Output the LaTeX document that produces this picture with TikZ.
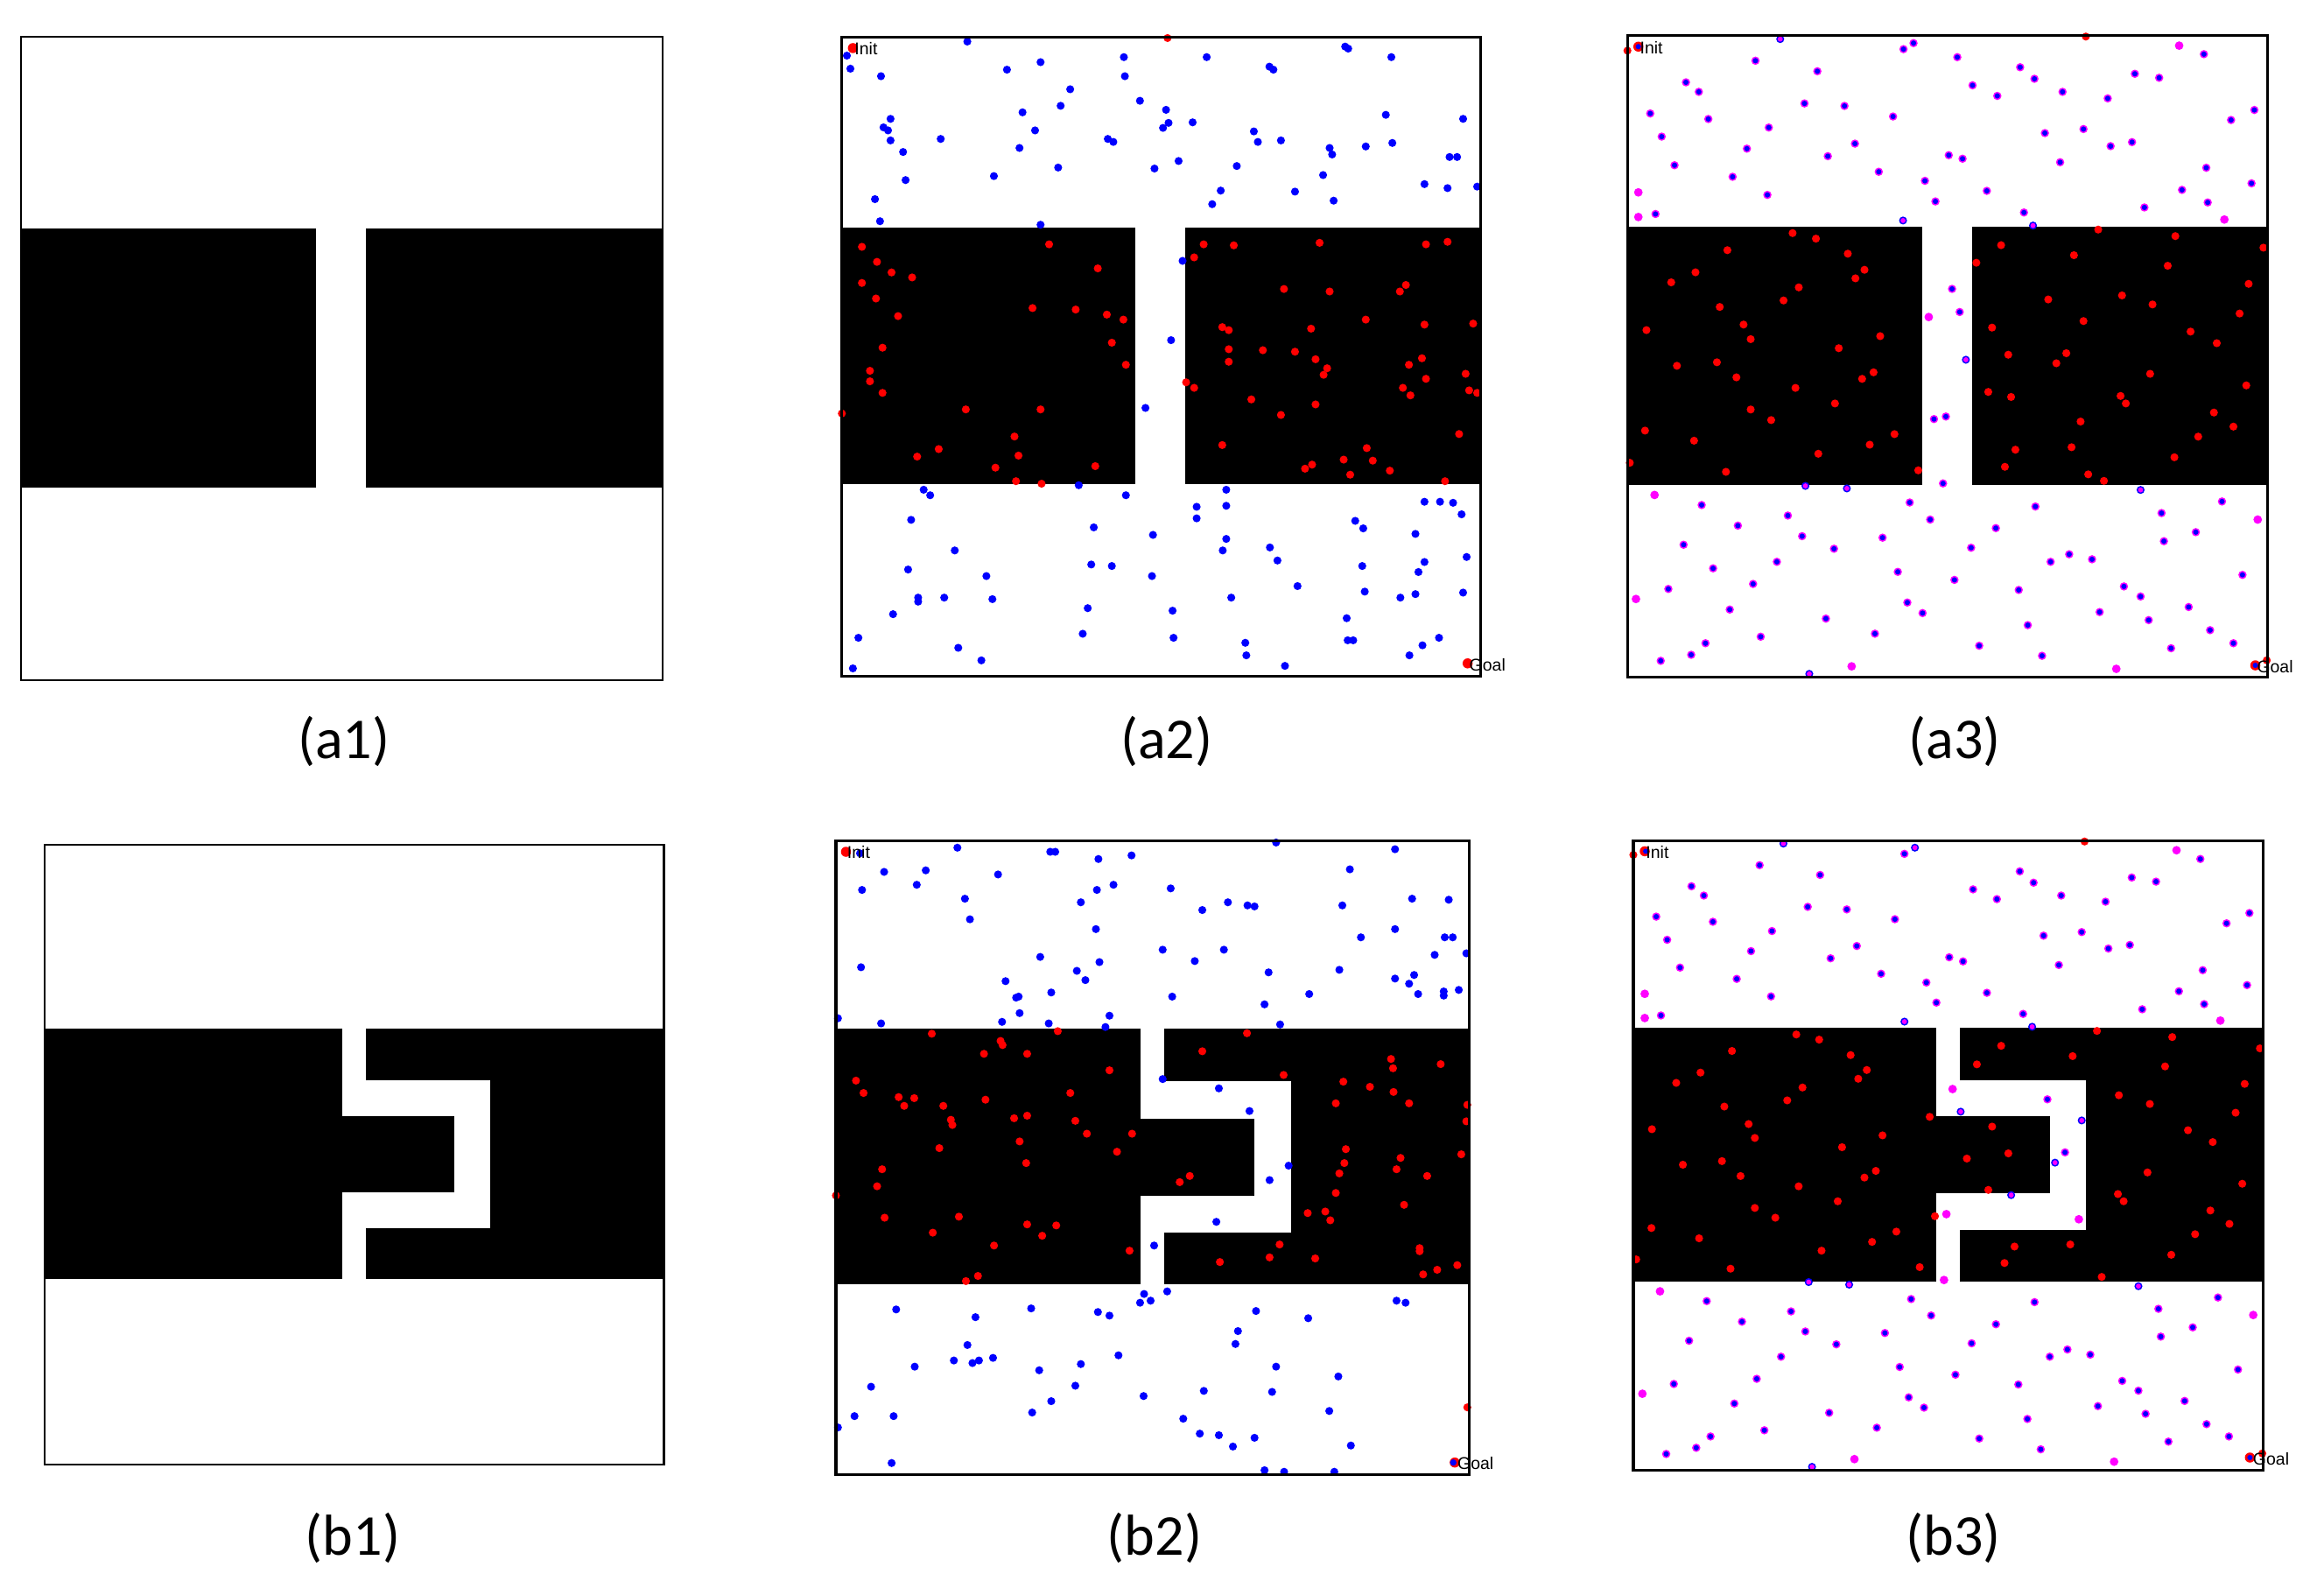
\documentclass[tikz,border=0pt]{standalone}
\usepackage{fontspec}
\setmainfont{Carlito}
\newfontfamily\tagfont{Liberation Sans}
\definecolor{pblue}{RGB}{0,0,255}
\definecolor{pred}{RGB}{255,0,0}
\definecolor{pmag}{RGB}{255,0,255}
\tikzset{
  frm/.style={draw=black, line width=1.8pt},
  thinfrm/.style={draw=black, line width=1.3pt},
  lab/.style={font=\fontsize{39}{44}\selectfont, anchor=base, inner sep=0pt},
  tagtext/.style={font=\tagfont\fontsize{11.5}{13}\selectfont, anchor=base west, inner sep=0pt},
}
% geometry of the obstacles in normalised frame coordinates
\newcommand\obstA{%
  \fill[black] (0,0.298) rectangle (0.460,0.700);
  \fill[black] (0.538,0.298) rectangle (1,0.700);}
\newcommand\obstB{%
  \fill[black] (0,0.297) rectangle (1,0.700);
  \fill[white] (0.481,0.297) rectangle (0.519,0.700);
  \fill[white] (0.481,0.380) rectangle (0.719,0.618);
  \fill[black] (0.470,0.438) rectangle (0.661,0.560);}
\newcommand\pp[2]{({(#1-\pOX)/\pW},{(#2-\pOY)/\pH})}
\begin{document}
\begin{tikzpicture}[x=1pt,y=-1pt]
\useasboundingbox (0,0) rectangle (1568,1076);
\fill[white] (0,0) rectangle (1568,1076);

%%%%%%%%%%%%%%%% (a1)
\begin{scope}[shift={(14,25)}, x=433pt, y=-434pt]
  \obstA
  \draw[thinfrm] (0,0) rectangle (1,1);
\end{scope}
\node[lab] (la1) at (232,512) {(a1)};

%%%%%%%%%%%%%%%% (b1)
\begin{scope}[shift={(30,570)}, x=418pt, y=-418pt]
  \obstB
  \draw[thinfrm] (0,0) rectangle (1,1);
\end{scope}
\node[lab] (lb1) at (238,1049) {(b1)};

%%%%%%%%%%%%%%%% (a2)
\def\pOX{108}\def\pOY{74}\def\pW{1273}\def\pH{1273}
\begin{scope}[shift={(568,25)}, x=431pt, y=-431pt]
  \obstA
  % blue samples in free space
  \foreach \a/\b in {118/111,125/137,186/152,358/83,437/139,504/124,670/114,672/152,563/178,544/211,
    468/224,493/260,462/295,539/334,411/351,305/277,205/237,191/254,200/260,205/280,230/303,235/359,
    174/397,184/441,504/448,638/277,649/283,702/201,754/219,759/245,748/255,731/336,779/321,807/244,
    835/114,895/331,863/380,846/407,929/262,937/283,983/280,960/133,968/139,1011/382,1067/349,
    1080/295,1085/308,1088/400,1111/93,1117/97,1203/114,1192/229,1205/285,1152/292,1269/367,
    1315/375,1319/313,1334/313,1346/237,1374/372,
    787/520,764/678,713/813,
    271/976,284/987,246/1036,580/967,674/987,610/1051,728/1066,333/1097,240/1135,396/1148,260/1191,
    260/1199,312/1191,408/1194,210/1224,141/1271,130/1332,340/1291,386/1316,605/1125,646/1128,
    726/1148,598/1212,588/1263,767/1217,769/1271,815/1010,815/1033,874/976,874/1008,874/1074,
    867/1097,884/1191,961/1091,976/1117,1016/1168,912/1281,914/1306,991/1327,1131/1038,1147/1053,
    1145/1128,1150/1179,1114/1232,1116/1276,1127/1276,1269/1000,1300/1000,1326/1002,1343/1025,
    1251/1064,1269/1120,1257/1140,1353/1110,1221/1191,1251/1184,1346/1181,1298/1271,1265/1286,1239/1306}
    {\fill[pblue] \pp{\a}{\b} circle[radius=2.7pt];}
  % red samples in obstacles
  \foreach \a/\b in {757/76,108/824,
    148/492,178/522,207/543,248/553,148/564,176/595,220/630,189/693,164/739,164/760,189/783,521/487,
    618/535,488/614,574/617,636/627,669/637,646/683,674/727,355/816,504/816,452/870,460/908,301/895,
    258/910,414/932,455/959,506/964,613/929,
    829/487,810/513,889/489,1060/484,1272/487,1315/482,989/576,1080/581,1220/581,1232/568,1152/637,
    866/652,879/658,879/696,879/721,947/698,1011/701,1043/655,1052/716,1075/734,1068/747,1269/647,
    1366/645,1264/714,1238/727,1272/755,1351/745,1358/778,1374/783,1226/773,1241/788,794/762,810/773,
    924/796,983/827,1052/806,866/887,1154/893,1108/916,1166/918,1031/934,1045/926,1121/946,1200/938,
    1338/865,1310/959}
    {\fill[pred] \pp{\a}{\b} circle[radius=2.7pt];}
  \fill[pred] \pp{130}{96} circle[radius=3.4pt];
  \fill[pred] \pp{1355}{1322} circle[radius=3.4pt];
  \node[tagtext] (inita2) at \pp{133}{110} {Init};
  \node[tagtext] (goala2) at \pp{1358}{1337} {Goal};
  \draw[frm] (0,0) rectangle (1,1);
\end{scope}
\node[lab] (la2) at (787,512) {(a2)};

%%%%%%%%%%%%%%%% (a3)
\def\pOX{107}\def\pOY{70}\def\pW{1345}\def\pH{1277}
\begin{scope}[shift={(1098,24)}, x=432pt, y=-433pt]
  \obstA
  \foreach \a/\b in {708/85,687/97,800/113,376/120,506/141,230/163,257/182,155/225,277/236,179/271,
    404/253,479/205,563/210,665/231,358/295,206/328,328/351,401/387,166/425,528/310,585/285,635/341,
    732/359,754/400,782/308,811/315,832/169,884/190,932/133,962/156,1021/182,1116/195,1173/146,
    1224/154,1318/107,984/264,1065/256,1122/290,1167/282,1016/322,862/379,940/422,1193/412,1272/377,
    1326/402,1323/333,1375/238,1424/218,1418/364,
    789/574,805/620,751/833,776/828,770/961,
    263/1004,444/1025,339/1045,225/1083,474/1066,541/1091,643/1069,700/999,743/1033,881/1050,964/1007,
    829/1089,287/1130,421/1117,675/1137,794/1153,193/1171,371/1161,322/1212,524/1230,695/1198,
    727/1219,929/1173,996/1117,1035/1102,1083/1112,1150/1166,1185/1186,1229/1020,1234/1076,1301/1058,
    1356/997,1399/1143,1286/1207,1202/1233,1099/1217,948/1243,1331/1253,1380/1279,1249/1289,846/1284,
    978/1304,627/1260,387/1266,271/1279,241/1302,177/1314}
    {\fill[pmag] \pp{\a}{\b} circle[radius=2.8pt];
     \fill[pblue] \pp{\a}{\b} circle[radius=1.8pt];}
  \foreach \a/\b in {428/77,686/438,959/448,818/715,481/966,568/971,1185/974,489/1340}
    {\fill[pblue] \pp{\a}{\b} circle[radius=2.7pt];
     \fill[pmag] \pp{\a}{\b} circle[radius=1.7pt];}
  \foreach \a/\b in {130/382,130/431,1266/90,1361/436,740/630,164/984,125/1191,1431/1033,578/1325,1134/1330}
    {\fill[pmag] \pp{\a}{\b} circle[radius=2.9pt];}
  \foreach \a/\b in {107/100,1070/72,1450/1313,
    454/463,503/474,317/497,570/504,605/536,586/553,250/541,199/561,467/571,435/597,301/610,147/656,
    351/645,366/674,638/668,551/692,211/727,295/720,336/750,460/771,624/740,600/753,543/802,366/814,
    409/835,144/856,247/876,668/863,616/884,508/902,112/920,314/938,718/935,
    892/487,840/522,1045/507,1096/456,1258/469,1443/492,1242/528,1412/564,991/595,1146/587,1210/605,
    1393/623,1065/638,873/651,1290/659,1345/682,907/705,1029/702,1008/722,1205/743,865/779,913/789,
    1143/787,1154/802,1407/766,1339/820,1380/848,1059/838,1306/868,922/894,1040/889,1256/909,900/928,
    1075/943,1108/956}
    {\fill[pred] \pp{\a}{\b} circle[radius=2.7pt];}
  \fill[pred] \pp{130}{92} circle[radius=3.4pt];
  \fill[pblue] \pp{130}{92} circle[radius=1.8pt];
  \fill[pred] \pp{1426}{1323} circle[radius=3.4pt];
  \fill[pblue] \pp{1426}{1323} circle[radius=1.8pt];
  \node[tagtext] (inita3) at \pp{133}{106} {Init};
  \node[tagtext] (goala3) at \pp{1429}{1337} {Goal};
  \draw[frm] (0,0) rectangle (1,1);
\end{scope}
\node[lab] (la3) at (1319,512) {(a3)};

%%%%%%%%%%%%%%%% (b2)
\def\pOX{95}\def\pOY{103}\def\pW{1261}\def\pH{1231}
\begin{scope}[shift={(564,567)}, x=427pt, y=-428pt]
  \obstB
  \foreach \a/\b in {143/128,337/117,522/125,532/125,618/139,684/132,972/107,1209/120,191/164,274/161,
    256/189,147/199,418/169,352/216,362/256,583/223,615/199,648/189,762/196,825/238,876/223,915/229,
    929/231,1119/159,1104/229,1243/216,1316/218,613/275,1209/275,1141/291,1308/291,1324/291,145/349,
    502/329,575/356,620/339,592/374,433/376,746/315,810/337,868/315,957/359,1098/354,1288/325,
    1351/322,1209/371,1247/364,1237/381,1255/401,1306/396,1306/404,1336/393,1038/401,949/421,765/406,
    524/398,454/408,459/406,461/438,640/443,632/465,519/458,426/455,185/458,99/448,980/460,
    746/566,858/584,919/628,997/734,959/762,853/843,729/889,709/983,701/1000,722/996,755/978,
    215/1013,373/1028,484/1011,617/1018,640/1025,932/1016,1036/1030,1212/996,1230/1000,357/1082,
    330/1112,367/1117,380/1112,408/1107,252/1124,165/1163,500/1131,583/1119,658/1102,896/1055,
    891/1080,972/1124,1096/1143,572/1161,828/1171,964/1173,708/1181,524/1191,486/1213,132/1220,
    210/1220,99/1242,1078/1210,787/1225,820/1254,858/1257,886/1279,929/1262,1121/1277,206/1311,
    949/1325,988/1328,1088/1328}
    {\fill[pblue] \pp{\a}{\b} circle[radius=2.7pt];}
  \foreach \a/\b in {95/792,1353/1203,
    286/478,423/492,427/500,537/473,390/517,476/517,640/549,135/569,150/593,220/601,251/603,231/618,
    309/618,393/606,562/593,324/645,327/655,450/642,476/637,572/647,595/672,685/672,461/687,301/700,
    474/729,655/707,187/741,177/774,192/835,340/833,476/848,506/870,534/850,288/864,410/889,680/899,
    354/958,378/948,780/766,800/754,
    825/512,914/477,987/558,1201/527,1205/545,1300/537,1106/571,1159/581,1206/591,1091/613,1237/613,
    1353/616,1351/648,1111/702,1108/729,1098/749,1220/719,1212/741,1273/754,1341/712,1091/787,
    1035/826,1070/823,1080/840,1227/810,979/887,959/912,860/921,1050/914,1258/894,1258/900,1265/945,
    1293/936,1333/927}
    {\fill[pred] \pp{\a}{\b} circle[radius=2.7pt];}
  \fill[pred] \pp{115}{125} circle[radius=3.4pt];
  \fill[pred] \pp{1328}{1310} circle[radius=3.4pt];
  \fill[pblue] \pp{1325}{1310} circle[radius=2.2pt];
  \node[tagtext] (initb2) at \pp{117}{138} {Init};
  \node[tagtext] (goalb2) at \pp{1333}{1323} {Goal};
  \draw[frm] (0,0) rectangle (1,1);
\end{scope}
\node[lab] (lb2) at (779,1049) {(b2)};

%%%%%%%%%%%%%%%% (b3)
\def\pOX{119}\def\pOY{101}\def\pW{1322}\def\pH{1224}
\begin{scope}[shift={(1102,567)}, x=425pt, y=-425pt]
  \obstB
  \foreach \a/\b in {688/127,384/149,511/168,241/190,267/208,167/249,286/259,190/294,410/277,485/230,
    567/235,668/254,366/316,217/348,336/370,408/404,177/441,533/330,588/306,639/360,734/377,755/416,
    782/328,811/336,832/196,882/215,930/161,959/183,1017/208,1110/220,1165/173,1216/181,1309/137,
    980/286,1060/279,1116/311,1161/304,1012/343,861/397,937/438,1187/429,1264/394,1317/419,1314/353,
    1364/262,1412/242,1407/382,
    988/604,1025/707,
    273/996,450/1016,347/1036,236/1073,480/1055,545/1080,647/1058,702/992,744/1024,880/1041,961/998,
    829/1078,429/1104,678/1124,795/1139,204/1157,378/1147,331/1195,530/1213,697/1183,729/1203,
    927/1158,993/1104,1030/1090,1078/1100,1145/1151,1179/1170,1221/1011,1226/1065,1293/1047,
    1346/989,1388/1129,1276/1190,1194/1215,1094/1200,946/1225,1322/1235,1369/1259,1242/1269,845/1263,
    974/1284,630/1242,394/1247,281/1259,251/1281,188/1293}
    {\fill[pmag] \pp{\a}{\b} circle[radius=2.8pt];
     \fill[pblue] \pp{\a}{\b} circle[radius=1.8pt];}
  \foreach \a/\b in {434/107,710/115,688/453,956/463,806/628,1060/645,1004/727,912/790,
    487/959,572/964,1179/967,494/1318}
    {\fill[pblue] \pp{\a}{\b} circle[radius=2.7pt];
     \fill[pmag] \pp{\a}{\b} circle[radius=1.7pt];}
  \foreach \a/\b in {143/399,143/446,1259/120,1351/451,789/584,776/827,1054/837,771/955,
    175/977,138/1176,1420/1023,583/1303,1128/1308}
    {\fill[pmag] \pp{\a}{\b} circle[radius=2.9pt];}
  \foreach \a/\b in {119/129,1066/103,1439/1292,
    461/478,509/488,326/510,575/518,609/547,591/564,260/552,209/572,474/581,442/606,310/618,158/662,
    361/652,374/679,642/674,557/697,223/731,305/724,344/753,466/773,628/743,604/756,548/802,374/815,
    417/834,157/854,257/874,671/861,620/881,514/898,125/915,323/933,720/930,741/638,752/831,
    872/657,906/709,819/719,864/780,
    891/500,840/536,1041/520,1092/471,1250/483,1434/505,1235/540,1402/574,1138/596,1203/613,
    1383/630,1283/664,1335/687,1198/746,1136/788,1148/802,1397/768,1330/820,1370/846,1298/866,
    919/890,1036/886,1248/906,898/922,1102/949}
    {\fill[pred] \pp{\a}{\b} circle[radius=2.7pt];}
  \fill[pred] \pp{143}{122} circle[radius=3.4pt];
  \fill[pblue] \pp{145}{122} circle[radius=1.8pt];
  \fill[pred] \pp{1413}{1300} circle[radius=3.4pt];
  \fill[pblue] \pp{1413}{1300} circle[radius=1.8pt];
  \node[tagtext] (initb3) at \pp{145}{136} {Init};
  \node[tagtext] (goalb3) at \pp{1419}{1315} {Goal};
  \draw[frm] (0,0) rectangle (1,1);
\end{scope}
\node[lab] (lb3) at (1318,1049) {(b3)};
\end{tikzpicture}
\end{document}
